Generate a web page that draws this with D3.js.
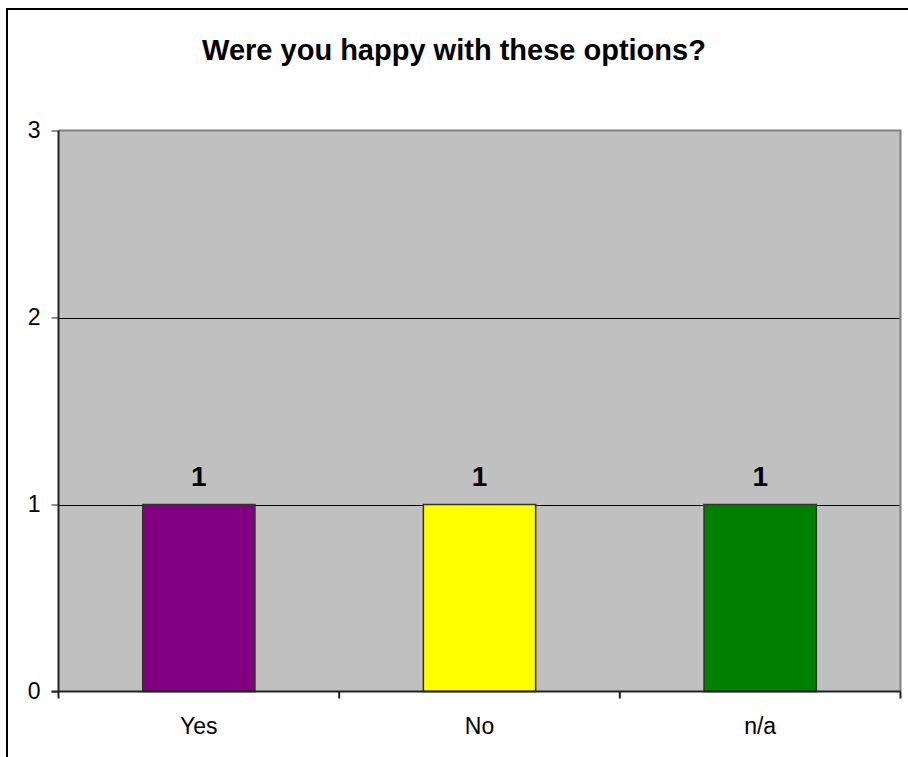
<!DOCTYPE html>
<html>
<head>
<meta charset="utf-8">
<script src="https://cdn.jsdelivr.net/npm/d3@7"></script>
<style>
  html, body { margin: 0; padding: 0; background: #fff; }
  svg { display: block; font-family: Arial, "Liberation Sans", sans-serif; }
</style>
</head>
<body>
<svg id="chart" width="908" height="757"></svg>
<script>
// Survey answers and counts
const categories = ["Yes", "No", "n/a"];
const counts = [1, 1, 1];
const barColors = ["#800080", "#FFFF00", "#008000"];
const yTicks = [0, 1, 2, 3];
const title = "Were you happy with these options?";

const svg = d3.select("#chart");
const W = 908, H = 757;
const plot = { left: 58.5, right: 900.5, top: 130.5, bottom: 691.5 };

// Chart frame (runs off the right and bottom edges)
svg.append("rect")
  .attr("x", 7).attr("y", 9)
  .attr("width", W + 20).attr("height", H + 20)
  .attr("fill", "#fff").attr("stroke", "#000").attr("stroke-width", 2);

const x = d3.scaleBand()
  .domain(categories)
  .range([plot.left, plot.right])
  .paddingInner(0.6)
  .paddingOuter(0.3);

const y = d3.scaleLinear()
  .domain([0, 3])
  .range([plot.bottom, plot.top]);

// Plot area background
svg.append("rect")
  .attr("x", plot.left).attr("y", plot.top)
  .attr("width", plot.right - plot.left).attr("height", plot.bottom - plot.top)
  .attr("fill", "#C0C0C0");

// Horizontal gridlines
svg.append("g")
  .selectAll("line")
  .data(yTicks.filter(v => v > 0 && v < 3))
  .join("line")
  .attr("x1", plot.left).attr("x2", plot.right)
  .attr("y1", d => Math.round(y(d)) + 0.5).attr("y2", d => Math.round(y(d)) + 0.5)
  .attr("stroke", "#000").attr("stroke-width", 1);

// Plot border on top and right
svg.append("path")
  .attr("d", `M${plot.left},${plot.top}H${plot.right}V${plot.bottom}`)
  .attr("fill", "none").attr("stroke", "#808080").attr("stroke-width", 2);

// Bars
svg.append("g")
  .selectAll("rect")
  .data(categories)
  .join("rect")
  .attr("x", d => x(d))
  .attr("y", (d, i) => y(counts[i]))
  .attr("width", x.bandwidth())
  .attr("height", (d, i) => y(0) - y(counts[i]))
  .attr("fill", (d, i) => barColors[i])
  .attr("stroke", "#333").attr("stroke-width", 1.5);

// Value labels
svg.append("g")
  .selectAll("text")
  .data(categories)
  .join("text")
  .attr("x", d => x(d) + x.bandwidth() / 2)
  .attr("y", (d, i) => y(counts[i]) - 19)
  .attr("text-anchor", "middle")
  .attr("font-size", 28).attr("font-weight", "bold")
  .text((d, i) => counts[i]);

// Y axis
const yAxis = d3.axisLeft(y).tickValues(yTicks).tickFormat(d3.format("d")).tickSize(7).tickPadding(11);
const gy = svg.append("g").attr("transform", `translate(${plot.left},0)`).call(yAxis);
gy.attr("font-size", 23).attr("font-family", "Arial, 'Liberation Sans', sans-serif");
gy.select(".domain").attr("stroke", "#222").attr("stroke-width", 2).attr("d", `M0,${plot.top}V${plot.bottom}`);
gy.selectAll(".tick line").attr("stroke", "#222").attr("stroke-width", 1);
gy.selectAll(".tick text").attr("fill", "#000");

// X axis with ticks at category boundaries
const gx = svg.append("g").attr("transform", `translate(0,${plot.bottom})`);
gx.append("line")
  .attr("x1", plot.left - 7).attr("x2", plot.right)
  .attr("stroke", "#222").attr("stroke-width", 2);
const bounds = [plot.left].concat(categories.map(c => x(c) + x.bandwidth() / 2 + x.step() / 2));
gx.selectAll("line.tick")
  .data(bounds)
  .join("line")
  .attr("class", "tick")
  .attr("x1", d => d).attr("x2", d => d)
  .attr("y1", 0).attr("y2", 7)
  .attr("stroke", "#222").attr("stroke-width", 2);
gx.selectAll("text")
  .data(categories)
  .join("text")
  .attr("x", d => x(d) + x.bandwidth() / 2)
  .attr("y", 42)
  .attr("text-anchor", "middle")
  .attr("font-size", 23)
  .text(d => d);

// Title
svg.append("text")
  .attr("x", W / 2).attr("y", 60)
  .attr("text-anchor", "middle")
  .attr("font-size", 29).attr("font-weight", "bold")
  .text(title);
</script>
</body>
</html>
